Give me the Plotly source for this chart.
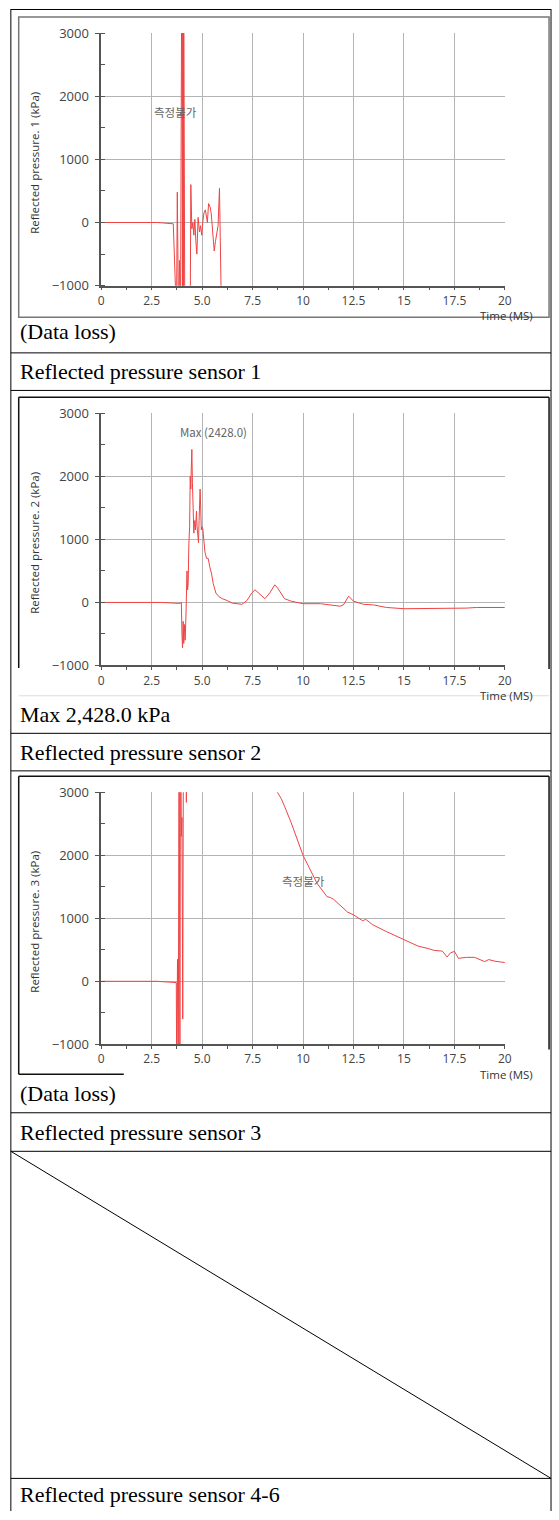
import plotly.graph_objects as go

W, H = 559, 1520

# ---------------- data ----------------
x_tick_vals = [0, 2.5, 5, 7.5, 10, 12.5, 15, 17.5, 20]
x_tick_text = ["0", "2.5", "5.0", "7.5", "10", "12.5", "15", "17.5", "20"]
y_tick_vals = [-1000, 0, 1000, 2000, 3000]

s1_time = [0, 2.8, 3.57, 3.65, 3.73, 3.77, 3.83, 3.88, 3.93, 4.0, 4.01, 4.02, 4.03, 4.04, 4.05,
           4.06, 4.07, 4.08, 4.14, 4.41, 4.44, 4.49, 4.54, 4.59, 4.64, 4.69, 4.74, 4.80, 4.87,
           4.92, 4.98, 5.03, 5.09, 5.16, 5.21, 5.26, 5.32, 5.39, 5.45, 5.51, 5.60, 5.66, 5.73,
           5.79, 5.86, 5.91, 5.96]
s1_pressure = [0, 0, -20, -1500, -1500, 480, -1500, -600, -1500, 5000, -2000, 5000, -2000, 5000,
               -2000, 5000, -2000, 5000, -1500, -1500, 600, -100, 0, -200, 50, -300, -500, 80,
               -150, -50, -200, 0, 150, 200, 50, 0, 300, 250, 150, -100, -450, -300, -150, -50,
               540, -1500, -1500]

s2_time = [0, 3.0, 3.9, 3.97, 4.0, 4.03, 4.06, 4.09, 4.12, 4.16, 4.2, 4.22, 4.25, 4.28, 4.31,
           4.34, 4.38, 4.41, 4.44, 4.46, 4.49, 4.52, 4.56, 4.59, 4.62, 4.64, 4.67, 4.7, 4.72,
           4.75, 4.79, 4.82, 4.85, 4.88, 4.9, 4.93, 4.96, 4.99, 5.03, 5.08, 5.14, 5.22, 5.3,
           5.39, 5.47, 5.55, 5.68, 5.84, 6.0, 6.24, 6.49, 6.73, 6.97, 7.22, 7.46, 7.62, 7.87,
           8.11, 8.35, 8.6, 8.76, 8.92, 9.08, 9.41, 10, 10.86, 11.35, 11.83, 12.0, 12.26, 12.5,
           12.74, 13, 13.5, 14.14, 15, 16.2, 17.5, 18.1, 18.6, 20]
s2_pressure = [0, 0, -15, 0, -500, -720, -300, -650, -350, -600, -200, 100, 500, 200, 300,
               900, 1200, 2000, 1800, 2100, 2428, 1900, 1500, 1100, 1250, 1300, 1150, 1350, 1450,
               1200, 1000, 950, 1300, 1600, 1800, 1500, 1150, 1200, 1180, 1050, 800, 700, 700,
               550, 450, 300, 150, 90, 60, 30, -10, -20, -30, 30, 150, 200, 120,
               60, 150, 280, 220, 150, 60, 20, -20, -20, -40, -60, -40, 100, 20,
               -10, -30, -40, -80, -100, -100, -100, -90, -80, -80]

s3_time = [0, 2.76, 3.72, 3.74, 3.78, 3.82, 3.86, 3.9, 3.93, 3.97, 4.0, 4.04, 4.08, 4.18, 4.22,
           4.24, 6.0, 8.5, 8.73, 8.92, 9.08, 9.41, 10, 10.7, 11.19, 11.35, 11.52, 12.0, 12.2,
           12.5, 12.8, 12.96, 13.1, 13.45, 14.1, 15, 15.7, 16.2, 16.5, 16.9, 17.14, 17.3, 17.5,
           17.7, 18.1, 18.5, 19, 19.2, 19.5, 20]
s3_pressure = [0, 0, -20, -1500, 350, -1500, 5000, -1500, 5000, 2300, 2600, -600, 5000, 5000, 2840,
               5000, 8000, 3300, 3000, 2900, 2780, 2520, 2000, 1552, 1344, 1330, 1300, 1160, 1100,
               1055, 1000, 960, 985, 898, 794, 663, 559, 520, 490, 480, 386, 450, 475,
               365, 380, 380, 313, 345, 320, 297]

captions = ["(Data loss)", "Reflected pressure sensor 1",
            "Max 2,428.0 kPa", "Reflected pressure sensor 2",
            "(Data loss)", "Reflected pressure sensor 3",
            "Reflected pressure sensor 4-6"]
y_titles = ["Reflected pressure. 1 (kPa)", "Reflected pressure. 2 (kPa)",
            "Reflected pressure. 3 (kPa)"]
notes = [("측정불가", 3.7, 1753), ("Max (2428.0)", 5.55, 2711), ("측정불가", 10.0, 1595)]

# ---------------- layout helpers ----------------
def px_x(p):
    return p / W

def px_y(p):
    return 1 - p / H

plot_left, plot_right = 100, 511
plot_tb = [(24.3, 280), (409.3, 664.3), (792.7, 1047.7)]
caption_y = [326, 367, 714, 752, 1098, 1137, 1503]
hlines = [348, 386, 733, 771, 1117, 1156, 1487]

RED = "#ee4444"
fig = go.Figure()
series = [(s1_time, s1_pressure), (s2_time, s2_pressure), (s3_time, s3_pressure)]
for i, (t, p) in enumerate(series):
    suffix = "" if i == 0 else str(i + 1)
    fig.add_trace(go.Scatter(x=t, y=p, mode="lines", line=dict(color=RED, width=1),
                             xaxis="x" + suffix, yaxis="y" + suffix, showlegend=False,
                             hoverinfo="skip"))

xfont = dict(family="Open Sans", size=12, color="#444")
yfont = dict(family="Open Sans", size=13, color="#444")
GRID = "#b4b4b4"
layout = dict(width=W, height=H, margin=dict(l=0, r=0, t=0, b=0), autosize=False,
              paper_bgcolor="white", plot_bgcolor="white", showlegend=False)
for i, (top, bot) in enumerate(plot_tb):
    suffix = "" if i == 0 else str(i + 1)
    layout["xaxis" + suffix] = dict(
        domain=[px_x(plot_left), px_x(plot_right)], range=[0, 20], anchor="y" + suffix,
        tickvals=x_tick_vals, ticktext=x_tick_text, tickfont=xfont,
        showgrid=True, gridcolor=GRID, gridwidth=1, zeroline=False,
        showline=True, linecolor="#555", linewidth=1.5,
        ticks="outside", ticklen=3, tickcolor="#555",
        minor=dict(tick0=0, dtick=1.25, ticks="outside", ticklen=3, tickcolor="#555", showgrid=False),
        fixedrange=True)
    layout["yaxis" + suffix] = dict(
        domain=[px_y(bot), px_y(top)], range=[-1000, 3000], anchor="x" + suffix,
        tickvals=y_tick_vals, tickfont=yfont, ticklabelstandoff=4,
        showgrid=True, gridcolor=GRID, gridwidth=1, zeroline=False,
        showline=True, linecolor="#555", linewidth=1.5,
        ticks="outside", ticklen=4, tickcolor="#555",
        minor=dict(tick0=0, dtick=500, ticks="inside", ticklen=4, tickcolor="#555", showgrid=False),
        fixedrange=True)
fig.update_layout(**layout)

annotations = []
for i, (top, bot) in enumerate(plot_tb):
    annotations.append(dict(text=y_titles[i], xref="paper", yref="paper",
                            x=px_x(32), y=px_y((top + bot) / 2 + 3), textangle=-90,
                            showarrow=False, font=dict(family="Open Sans", size=11.5, color="#333"),
                            xanchor="center", yanchor="middle"))
    annotations.append(dict(text="Time (MS)", xref="paper", yref="paper",
                            x=px_x(513), y=px_y(bot + 30.5), showarrow=False,
                            font=dict(family="Open Sans", size=11.5, color="#333"),
                            xanchor="center", yanchor="middle"))
for i, (txt, nx, ny) in enumerate(notes):
    suffix = "" if i == 0 else str(i + 1)
    annotations.append(dict(text=txt, xref="x" + suffix, yref="y" + suffix, x=nx, y=ny,
                            showarrow=False, xanchor="center", yanchor="middle",
                            font=dict(family="Noto Sans CJK KR, Open Sans", size=11.5, color="#666")))
for txt, cy in zip(captions, caption_y):
    annotations.append(dict(text=txt, xref="paper", yref="paper", x=px_x(15), y=px_y(cy),
                            showarrow=False, xanchor="left", yanchor="middle",
                            font=dict(family="Liberation Serif", size=22, color="black")))
fig.update_layout(annotations=annotations)

shapes = []
def line(x0, y0, x1, y1, color="black", width=1):
    shapes.append(dict(type="line", xref="paper", yref="paper",
                       x0=px_x(x0), y0=px_y(y0), x1=px_x(x1), y1=px_y(y1),
                       line=dict(color=color, width=width)))

# table frame
line(8, 0.5, 558, 0.5)
line(8, 0, 8, H)
line(558, 0, 558, H)
for hy in hlines:
    line(8, hy, 558, hy)
line(8, 1156, 558, 1487)

# chart image borders
shapes.append(dict(type="rect", xref="paper", yref="paper", x0=px_x(16), x1=px_x(556),
                   y0=px_y(312), y1=px_y(8), line=dict(color="#777", width=1.5)))
line(16, 393, 556, 393, "#111", 1.5)
line(16, 393, 16, 667, "#111", 1.5)
line(556, 393, 556, 668, "#111", 1.5)
line(16, 695, 556, 695, "#ddd", 1)
line(16, 776.5, 556, 776.5, "#111", 1.5)
line(16, 776.5, 16, 1078, "#111", 1.5)
line(16, 1078, 123, 1078, "#111", 1.5)
line(556, 776.5, 556, 1053, "#111", 1.5)
fig.update_layout(shapes=shapes)

post = ("document.documentElement.style.margin='0';"
        "document.documentElement.style.overflow='hidden';"
        "document.body.style.margin='0';document.body.style.padding='0';"
        "document.body.style.overflow='hidden';"
        "var gd=document.getElementById('{plot_id}');"
        "gd.style.position='fixed';gd.style.left='0px';gd.style.top='0px';")
fig.write_html("out.html", config={"displayModeBar": False, "responsive": False},
               post_script=post)
